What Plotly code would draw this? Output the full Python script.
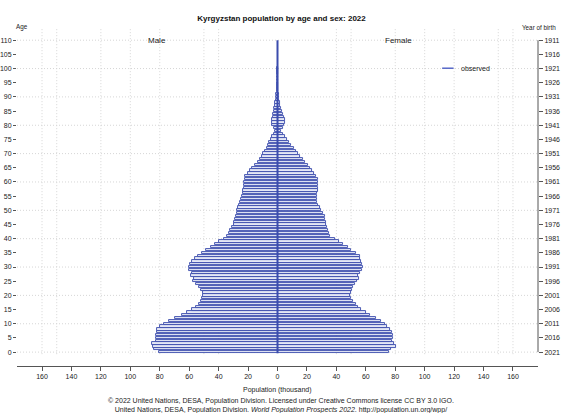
import plotly.graph_objects as go

# Kyrgyzstan, 2022 — population by single year of age (thousands)
ages = list(range(0, 101))

male = [
    80.5, 83.6, 84.7, 85.4, 82.4, 82.7, 82.7, 82.2, 81.8, 79.7,
    76.8, 73.9, 69.4, 64.8, 61.7, 58.3, 55.3, 53.6, 51.9, 51.0,
    50.4, 50.8, 51.9, 53.6, 55.3, 57.6, 56.5, 58.5, 58.0, 59.9,
    60.3, 59.2, 58.3, 55.8, 53.8, 51.5, 48.3, 45.5, 42.5, 39.5,
    36.5, 34.3, 32.7, 32.3, 30.9, 29.8, 29.4, 28.7, 28.2, 27.8,
    27.3, 26.6, 26.0, 25.3, 24.6, 24.1, 23.7, 23.3, 22.8, 22.6,
    22.6, 22.4, 21.9, 20.3, 18.5, 17.5, 15.5, 13.5, 12.0, 10.8,
    9.6, 8.4, 7.3, 6.6, 5.6, 4.5, 3.5, 2.3, 1.8, 2.7,
    3.5, 3.8, 3.6, 3.2, 2.8, 2.5, 2.1, 1.8, 1.4, 1.1,
    0.9, 0.7, 0.55, 0.4, 0.3, 0.22, 0.15, 0.1, 0.07, 0.05,
    0.04,
]

female = [
    75.7, 76.8, 80.5, 79.1, 78.0, 78.4, 78.6, 78.0, 76.2, 74.6,
    72.8, 70.0, 66.7, 62.8, 59.9, 57.0, 54.9, 53.1, 51.5, 50.2,
    49.3, 49.7, 50.4, 51.5, 52.7, 53.8, 55.4, 54.9, 56.0, 57.6,
    58.3, 57.6, 56.5, 55.8, 56.0, 53.0, 50.2, 47.7, 44.6, 41.6,
    38.8, 35.5, 34.8, 34.4, 33.7, 33.2, 32.9, 32.5, 32.0, 31.0,
    29.6, 28.7, 27.4, 26.9, 26.7, 26.9, 27.1, 27.4, 27.6, 27.8,
    27.8, 27.4, 26.0, 24.7, 23.5, 22.0, 20.8, 18.6, 17.0, 15.6,
    14.0, 12.7, 11.1, 9.3, 7.6, 6.5, 5.0, 3.5, 2.4, 3.4,
    4.6, 5.0, 4.8, 4.2, 3.6, 3.0, 2.5, 2.0, 1.6, 1.3,
    1.0, 0.8, 0.6, 0.45, 0.35, 0.25, 0.18, 0.12, 0.08, 0.06,
    0.05,
]

ref_year = 2021
age_ticks = list(range(0, 111, 5))
birth_labels = [str(ref_year - a) for a in age_ticks]
pop_ticks = list(range(-160, 161, 20))
pop_labels = [str(abs(v)) for v in pop_ticks]
grid_pops = [40, 50, 80, 100, 120, 150, 160]
grid_ages = list(range(0, 111, 10))

FONT = "Liberation Sans, Arial, sans-serif"
EDGE = "#3b4cad"
FILL = "#e4e7f6"
GRID = "#d6d6d6"
TXT = "#222222"
AXIS = "#555555"

fig = go.Figure()

fig.add_trace(go.Bar(
    y=ages, x=[-v for v in male], orientation="h", width=0.8,
    marker=dict(color=FILL, line=dict(color=EDGE, width=0.9)),
    showlegend=False, hoverinfo="skip",
))
fig.add_trace(go.Bar(
    y=ages, x=female, orientation="h", width=0.8,
    marker=dict(color=FILL, line=dict(color=EDGE, width=0.9)),
    showlegend=False, hoverinfo="skip",
))
# secondary axis carrying the year-of-birth scale
fig.add_trace(go.Scatter(
    x=[0], y=[0], yaxis="y2", mode="markers", opacity=0,
    showlegend=False, hoverinfo="skip",
))

dots = dict(color=GRID, width=1, dash="1px,2px")
shapes = []
for g in grid_pops:
    for s in (-1, 1):
        shapes.append(dict(type="line", xref="x", yref="paper", x0=s * g, x1=s * g,
                           y0=0.035, y1=1, layer="below", line=dots))
for a in grid_ages:
    shapes.append(dict(type="line", xref="paper", yref="y", x0=0, x1=1, y0=a, y1=a,
                       layer="below", line=dots))
# centre line and right axis spine
shapes.append(dict(type="line", xref="x", yref="y", x0=0, x1=0, y0=-0.4, y1=110,
                   line=dict(color=EDGE, width=2.0)))
shapes.append(dict(type="line", xref="paper", yref="y", x0=1, x1=1, y0=0, y1=110,
                   line=dict(color=AXIS, width=1)))
# legend sample
shapes.append(dict(type="line", xref="paper", yref="paper", x0=0.816, x1=0.838,
                   y0=0.881, y1=0.881, line=dict(color="#5668c8", width=1.5)))

annotations = [
    dict(text="Male", x=-82, y=110, xref="x", yref="y", showarrow=False,
         font=dict(size=8, color=TXT)),
    dict(text="Female", x=82, y=110, xref="x", yref="y", showarrow=False,
         font=dict(size=8, color=TXT)),
    dict(text="observed", x=0.848, y=0.881, xref="paper", yref="paper",
         xanchor="left", yanchor="middle", showarrow=False,
         font=dict(size=7, color=TXT)),
    dict(text="Age", x=0.009, y=1.0, xref="paper", yref="paper", xanchor="center",
         yanchor="bottom", yshift=-5, showarrow=False, font=dict(size=6.3, color=TXT)),
    dict(text="Year of birth", x=1.038, y=1.0, xref="paper", yref="paper",
         xanchor="right", yanchor="bottom", yshift=-5, showarrow=False,
         font=dict(size=6.3, color=TXT)),
    dict(text="Population (thousand)", x=0.5, y=-0.053, xref="paper", yref="paper",
         yanchor="top", showarrow=False, font=dict(size=7, color=TXT)),
    dict(text="© 2022 United Nations, DESA, Population Division. Licensed under "
              "Creative Commons license CC BY 3.0 IGO.<br>United Nations, DESA, "
              "Population Division. <i>World Population Prospects 2022</i>. "
              "http://population.un.org/wpp/",
         x=0.507, y=-0.086, xref="paper", yref="paper", yanchor="top",
         showarrow=False, font=dict(size=7, color=TXT)),
]

fig.update_layout(
    width=563, height=413,
    margin=dict(l=17, r=25, t=28, b=47, autoexpand=False),
    paper_bgcolor="white", plot_bgcolor="white",
    font=dict(family=FONT, size=7, color=TXT),
    barmode="overlay", bargap=0,
    title=dict(text="<b>Kyrgyzstan population by age and sex: 2022</b>",
               x=0.5, xanchor="center", y=0.956, yanchor="middle",
               font=dict(size=8, color="#111111")),
    xaxis=dict(range=[-177, 177], tickvals=pop_ticks, ticktext=pop_labels,
               showgrid=False, zeroline=False, showline=True, linecolor=AXIS,
               linewidth=1, ticks="outside", ticklen=4, tickcolor=AXIS,
               tickfont=dict(size=7), automargin=False),
    yaxis=dict(range=[-4.9, 114.3], tickvals=age_ticks, showgrid=False,
               zeroline=False, showline=False, ticks="outside", ticklen=3,
               tickcolor=AXIS, tickfont=dict(size=7), automargin=False),
    yaxis2=dict(range=[-4.9, 114.3], overlaying="y", side="right",
                tickvals=age_ticks, ticktext=birth_labels, showgrid=False,
                zeroline=False, showline=False, ticks="outside", ticklen=4,
                tickcolor=AXIS, tickfont=dict(size=7), automargin=False),
    shapes=shapes,
    annotations=annotations,
)

fig.write_html("out.html")
